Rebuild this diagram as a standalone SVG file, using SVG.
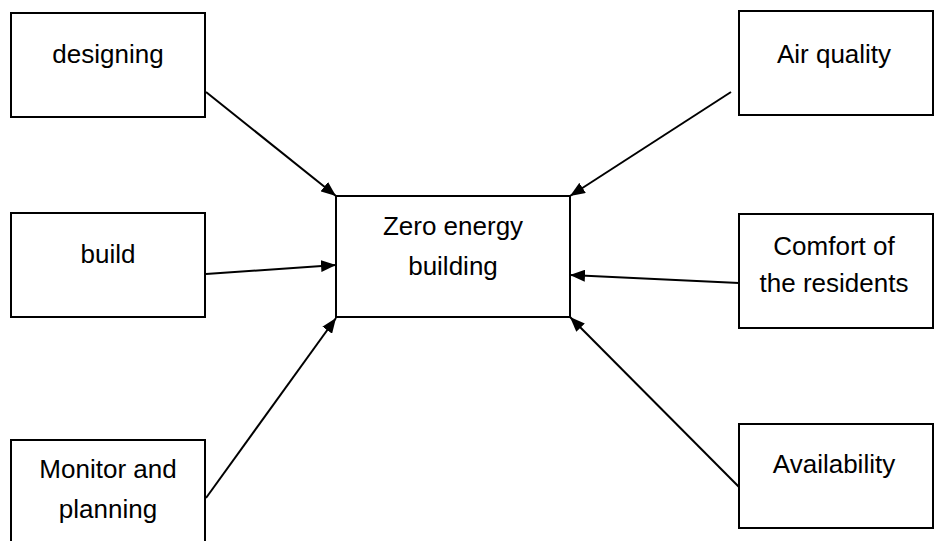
<svg xmlns="http://www.w3.org/2000/svg" width="934" height="541" viewBox="0 0 934 541">
<style>
.box{fill:#fff;stroke:#000;stroke-width:2}
.lbl{font-family:"Liberation Sans",Arial,sans-serif;font-size:26px;fill:#000;text-anchor:middle}
.conn line{stroke:#000;stroke-width:2;marker-end:url(#ah)}
</style>
<defs>
<marker id="ah" markerUnits="userSpaceOnUse" markerWidth="16" markerHeight="12" refX="15" refY="6" orient="auto">
<path d="M0,0 L15,6 L0,12 z" fill="#000"/>
</marker>
</defs>
<rect width="934" height="541" fill="#fff"/>
<g id="designing"><rect class="box" x="11" y="13" width="194" height="104"/><text class="lbl" x="108" y="63">designing</text></g>
<g id="build"><rect class="box" x="11" y="213" width="194" height="104"/><text class="lbl" x="108" y="263">build</text></g>
<g id="monitor"><rect class="box" x="11" y="440" width="194" height="110"/><text class="lbl" x="108" y="478">Monitor and</text><text class="lbl" x="108" y="518">planning</text></g>
<g id="zeb"><rect class="box" x="336" y="196" width="234" height="121"/><text class="lbl" x="453" y="235">Zero energy</text><text class="lbl" x="453" y="275">building</text></g>
<g id="air"><rect class="box" x="739" y="11" width="194" height="104"/><text class="lbl" x="834" y="63">Air quality</text></g>
<g id="comfort"><rect class="box" x="739" y="214" width="194" height="114"/><text class="lbl" x="834" y="255">Comfort of</text><text class="lbl" x="834" y="292">the residents</text></g>
<g id="availability"><rect class="box" x="739" y="424" width="194" height="104"/><text class="lbl" x="834" y="473">Availability</text></g>
<g id="connectors" class="conn">
<line x1="206" y1="92" x2="336" y2="196"/>
<line x1="206" y1="274" x2="336" y2="265"/>
<line x1="206" y1="498" x2="336" y2="318"/>
<line x1="731" y1="92" x2="570" y2="196"/>
<line x1="739" y1="283" x2="570" y2="275"/>
<line x1="739" y1="487" x2="570" y2="317"/>
</g>
</svg>
